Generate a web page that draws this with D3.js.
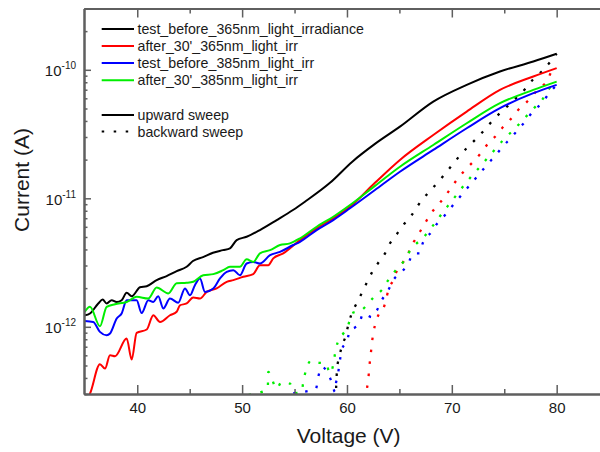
<!DOCTYPE html>
<html>
<head>
<meta charset="utf-8">
<script src="https://cdn.jsdelivr.net/npm/d3@7"></script>
<style>
  body { margin: 0; background: #fff; }
  svg { display: block; font-family: "Liberation Sans", Arial, sans-serif; }
</style>
</head>
<body>
<svg id="chart" width="600" height="452"></svg>
<script>
// ---- labels ----
const seriesLabels = [
  "test_before_365nm_light_irradiance",
  "after_30'_365nm_light_irr",
  "test_before_385nm_light_irr",
  "after_30'_385nm_light_irr"
];
const sweepLabels = ["upward sweep", "backward sweep"];
const xTickValues = [40, 50, 60, 70, 80];
const xMinorValues = [45, 55, 65, 75, 85];
const yTickValues = [1e-12, 1e-11, 1e-10];
const yTickExponents = ["-12", "-11", "-10"];

// ---- upward sweeps: [voltage V, current A] ----
const upBefore365 = [[35.0,1.23e-12],[35.49,1.27e-12],[36.28,1.52e-12],[36.70,1.63e-12],[37.08,1.52e-12],[37.56,1.61e-12],[38.04,1.56e-12],[38.51,1.61e-12],[38.99,1.84e-12],[39.47,1.73e-12],[40.26,2.03e-12],[40.90,2.07e-12],[41.85,2.31e-12],[42.80,2.48e-12],[43.76,2.71e-12],[44.71,2.93e-12],[45.31,3.25e-12],[46.27,3.49e-12],[47.22,3.77e-12],[48.17,3.95e-12],[48.84,4.08e-12],[49.48,4.73e-12],[50.43,5.02e-12],[51.70,5.66e-12],[53.30,6.77e-12],[54.85,8.11e-12],[55.99,9.41e-12],[58.38,1.32e-11],[60.48,1.92e-11],[62.67,2.65e-11],[65.05,3.61e-11],[68.23,5.66e-11],[71.42,7.64e-11],[74.59,9.70e-11],[77.77,1.16e-10],[80.0,1.333e-10]];
const upAfter365 = [[35.0,2.6e-13],[35.49,3.02e-13],[36.44,5.11e-13],[36.92,4.73e-13],[37.40,6.01e-13],[37.88,5.90e-13],[38.99,8.10e-13],[39.47,5.56e-13],[39.94,8.97e-13],[40.90,9.53e-13],[41.53,1.23e-12],[42.17,1.09e-12],[43.12,1.23e-12],[43.76,1.31e-12],[44.07,1.47e-12],[44.71,1.52e-12],[45.34,1.69e-12],[45.98,1.66e-12],[46.62,1.87e-12],[47.57,1.99e-12],[48.53,2.24e-12],[49.16,2.31e-12],[50.11,2.45e-12],[51.06,2.57e-12],[51.70,3.02e-12],[52.49,3.02e-12],[52.97,3.41e-12],[53.92,3.73e-12],[55.52,4.73e-12],[57.11,5.84e-12],[58.69,6.98e-12],[60.29,8.60e-12],[62.67,1.32e-11],[65.05,1.99e-11],[68.23,3.11e-11],[71.42,4.73e-11],[74.59,6.98e-11],[77.77,8.87e-11],[80.0,1.031e-10]];
const upBefore385 = [[35.0,1.11e-12],[35.80,1.09e-12],[36.44,9.13e-13],[37.08,8.60e-13],[37.40,8.87e-13],[38.04,1.16e-12],[38.51,1.27e-12],[38.99,1.61e-12],[39.94,1.61e-12],[40.42,1.28e-12],[41.05,1.61e-12],[41.53,1.56e-12],[42.00,1.73e-12],[42.48,1.39e-12],[43.12,1.66e-12],[43.91,1.54e-12],[44.55,1.99e-12],[45.03,1.76e-12],[45.50,2.11e-12],[45.98,2.38e-12],[46.46,1.87e-12],[47.25,1.99e-12],[47.89,2.38e-12],[48.53,2.68e-12],[49.16,2.76e-12],[49.79,2.52e-12],[50.43,3.11e-12],[51.06,3.20e-12],[51.70,3.11e-12],[52.66,3.61e-12],[53.61,3.83e-12],[54.88,4.33e-12],[55.52,4.59e-12],[57.11,5.66e-12],[58.69,6.77e-12],[60.29,8.36e-12],[62.67,1.16e-11],[65.05,1.61e-11],[68.23,2.38e-11],[71.42,3.51e-11],[74.59,5.03e-11],[77.77,6.58e-11],[80.0,7.64e-11]];
const upAfter385 = [[35.0,1.31e-12],[35.49,1.43e-12],[36.44,1.01e-12],[37.08,1.43e-12],[37.88,1.50e-12],[38.99,1.56e-12],[39.94,1.71e-12],[41.05,1.66e-12],[41.85,2.02e-12],[42.96,1.82e-12],[43.76,2.18e-12],[44.71,2.20e-12],[45.34,2.24e-12],[46.29,2.52e-12],[47.25,2.57e-12],[48.20,2.76e-12],[48.84,2.93e-12],[49.79,2.93e-12],[50.43,3.35e-12],[51.06,3.20e-12],[51.70,3.73e-12],[52.66,3.95e-12],[53.61,4.33e-12],[54.56,4.46e-12],[55.52,4.88e-12],[57.11,6.01e-12],[58.69,7.19e-12],[60.29,8.87e-12],[62.67,1.25e-11],[65.05,1.76e-11],[68.23,2.60e-11],[71.42,3.84e-11],[74.59,5.50e-11],[77.77,6.98e-11],[80.0,8.10e-11]];

// ---- backward sweeps: [voltage V, current A] ----
const downBefore365 = [[58.9,2.7e-13],[59.0,3.83e-13],[59.05,4.73e-13],[59.27,5.83e-13],[59.49,6.97e-13],[59.90,8.60e-13],[60.12,1.03e-12],[60.45,1.27e-12],[60.92,1.52e-12],[61.40,1.82e-12],[61.88,2.20e-12],[62.36,2.63e-12],[62.99,3.15e-12],[63.63,3.73e-12],[64.10,4.46e-12],[64.74,5.24e-12],[65.37,6.19e-12],[66.17,7.41e-12],[66.80,8.87e-12],[68.87,1.39e-11],[69.51,1.61e-11],[70.30,1.93e-11],[70.94,2.24e-11],[71.73,2.60e-11],[72.52,3.02e-11],[73.26,3.51e-11],[73.95,4.08e-11],[74.75,4.73e-11],[75.55,5.43e-11],[76.34,6.27e-11],[77.07,7.20e-11],[77.77,8.46e-11],[78.57,9.70e-11],[79.29,1.128e-10],[80.0,1.333e-10]];
const downAfter365 = [[61.85,2.7e-13],[61.88,3.11e-13],[62.03,3.83e-13],[62.13,4.87e-13],[62.26,6.01e-13],[62.36,7.28e-13],[62.51,8.87e-13],[62.67,1.03e-12],[62.99,1.23e-12],[63.41,1.35e-12],[63.72,1.61e-12],[63.94,1.93e-12],[64.42,2.31e-12],[64.74,2.71e-12],[65.37,3.20e-12],[65.85,3.73e-12],[66.17,4.33e-12],[66.48,4.73e-12],[66.96,5.49e-12],[67.44,6.39e-12],[67.91,7.41e-12],[68.39,8.36e-12],[68.94,9.41e-12],[70.94,1.55e-11],[71.42,1.71e-11],[72.05,1.93e-11],[72.69,2.21e-11],[73.48,2.68e-11],[74.28,3.11e-11],[74.91,3.61e-11],[75.55,4.08e-11],[76.18,4.73e-11],[76.98,5.43e-11],[77.61,6.19e-11],[78.34,7.20e-11],[79.05,8.10e-11],[79.52,9.70e-11],[80.0,1.031e-10]];
const downBefore385 = [[54.88,3.05e-13],[57.04,3.30e-13],[57.26,4.07e-13],[57.59,4.87e-13],[58.54,3.72e-13],[58.86,3.11e-13],[58.95,3.65e-13],[59.07,3.95e-13],[59.33,5.49e-13],[59.49,6.57e-13],[60.03,7.86e-13],[60.29,9.41e-13],[60.76,9.87e-13],[61.17,1.06e-12],[61.55,1.27e-12],[62.36,1.19e-12],[62.83,1.33e-12],[63.22,1.56e-12],[63.94,1.93e-12],[64.42,2.31e-12],[65.22,2.68e-12],[65.85,3.11e-12],[66.32,3.73e-12],[66.96,3.73e-12],[67.22,4.46e-12],[68.07,5.49e-12],[68.56,6.30e-12],[69.35,7.41e-12],[69.99,8.60e-12],[72.69,1.57e-11],[73.48,1.87e-11],[74.21,2.18e-11],[74.91,2.56e-11],[75.71,2.99e-11],[76.34,3.45e-11],[77.07,4.02e-11],[77.71,4.73e-11],[78.57,5.50e-11],[79.29,6.58e-11],[80.0,7.64e-11]];
const downAfter385 = [[49.48,2.9e-13],[51.5,3.05e-13],[52.45,3.3e-13],[52.47,3.83e-13],[52.49,4.45e-13],[53.30,3.30e-13],[53.77,3.72e-13],[54.56,3.61e-13],[55.04,3.05e-13],[55.68,3.11e-13],[55.83,3.72e-13],[56.09,4.59e-13],[56.63,5.49e-13],[57.26,5.27e-13],[58.00,5.17e-13],[58.38,4.33e-13],[58.64,4.87e-13],[58.95,6.77e-13],[59.27,8.10e-13],[59.65,8.87e-13],[60.12,1.03e-12],[60.45,1.27e-12],[61.40,1.35e-12],[62.03,1.52e-12],[62.58,1.71e-12],[63.31,1.93e-12],[63.94,2.31e-12],[64.58,2.71e-12],[65.37,3.20e-12],[65.85,3.73e-12],[66.48,4.33e-12],[67.22,4.88e-12],[67.91,5.73e-12],[68.49,6.57e-12],[69.18,7.86e-12],[69.82,9.14e-12],[71.89,1.49e-11],[72.69,1.76e-11],[73.38,2.05e-11],[74.21,2.45e-11],[74.91,2.85e-11],[75.71,3.30e-11],[76.43,3.79e-11],[77.14,4.38e-11],[77.93,5.12e-11],[78.66,5.91e-11],[79.20,6.98e-11],[80.0,8.10e-11]];

// ---- styling ----
const colors = ["#000000", "#ff0000", "#0000ff", "#00ee00"];
const axisColor = "#5f5f5f";
const textColor = "#1a1a1a";
const dotDash = "2.5 9.5";

const upward = [upBefore365, upAfter365, upBefore385, upAfter385];
const backward = [downBefore365, downAfter365, downBefore385, downAfter385];

const svg = d3.select("#chart");
const plot = { left: 84, top: 8.5, right: 613.3, bottom: 394 };

const x = d3.scaleLinear().domain([34.92, 85.4]).range([plot.left, plot.right]);
const y = d3.scaleLog().domain([3e-13, 3e-10]).range([plot.bottom, plot.top]);

svg.append("defs").append("clipPath").attr("id", "plotClip")
  .append("rect")
  .attr("x", plot.left).attr("y", plot.top)
  .attr("width", plot.right - plot.left).attr("height", plot.bottom - plot.top);

const line = d3.line().x(d => x(d[0])).y(d => y(d[1])).curve(d3.curveMonotoneX);

const dataLayer = svg.append("g").attr("clip-path", "url(#plotClip)");

// backward sweeps (dotted)
backward.forEach((s, i) => {
  dataLayer.append("path").datum(s)
    .attr("d", line)
    .attr("fill", "none")
    .attr("stroke", colors[i])
    .attr("stroke-width", 2.3)
    .attr("stroke-dasharray", dotDash);
});
// upward sweeps (solid)
upward.forEach((s, i) => {
  dataLayer.append("path").datum(s)
    .attr("d", line)
    .attr("fill", "none")
    .attr("stroke", colors[i])
    .attr("stroke-width", 2)
    .attr("stroke-linejoin", "round");
});

// ---- axes ----
function styleAxis(g, width) {
  g.select(".domain").attr("stroke", axisColor).attr("stroke-width", width);
  g.selectAll(".tick line").attr("stroke", axisColor).attr("stroke-width", 1.5);
  g.selectAll(".tick text").attr("fill", textColor);
}

// minor ticks on log axis (2..9 of each decade)
const yMinor = [];
[-13, -12, -11, -10].forEach(d => {
  for (let k = 2; k <= 9; k++) {
    const v = k * Math.pow(10, d);
    if (v >= 3e-13 * 0.999 && v <= 3e-10 * 1.001) yMinor.push(v);
  }
});

const axes = svg.append("g");

// bottom
axes.append("g").attr("transform", `translate(0,${plot.bottom})`)
  .call(d3.axisBottom(x).tickValues(xMinorValues).tickSize(-5).tickSizeOuter(0).tickFormat(""))
  .call(g => styleAxis(g, 2));
axes.append("g").attr("transform", `translate(0,${plot.bottom})`)
  .call(d3.axisBottom(x).tickValues(xTickValues).tickSize(-9).tickSizeOuter(0).tickPadding(8.5))
  .call(g => styleAxis(g, 2))
  .call(g => g.selectAll(".tick text").attr("font-size", 15).attr("font-family", "Liberation Sans, Arial, sans-serif"));

// top
axes.append("g").attr("transform", `translate(0,${plot.top})`)
  .call(d3.axisTop(x).tickValues(xMinorValues).tickSize(-5).tickSizeOuter(0).tickFormat(""))
  .call(g => styleAxis(g, 2));
axes.append("g").attr("transform", `translate(0,${plot.top})`)
  .call(d3.axisTop(x).tickValues(xTickValues).tickSize(-9).tickSizeOuter(0).tickFormat(""))
  .call(g => styleAxis(g, 2));

// left
axes.append("g").attr("transform", `translate(${plot.left},0)`)
  .call(d3.axisLeft(y).tickValues(yMinor).tickSize(-3.5).tickSizeOuter(0).tickFormat(""))
  .call(g => styleAxis(g, 2));
const yMajor = axes.append("g").attr("transform", `translate(${plot.left},0)`)
  .call(d3.axisLeft(y).tickValues(yTickValues).tickSize(-7).tickSizeOuter(0).tickFormat(""))
  .call(g => styleAxis(g, 2));

// right (frame edge)
axes.append("g").attr("transform", `translate(${plot.right},0)`)
  .call(d3.axisRight(y).tickValues(yMinor).tickSize(-3.5).tickSizeOuter(0).tickFormat(""))
  .call(g => styleAxis(g, 2));

// power-of-ten labels
yMajor.selectAll(".tick").each(function (d, i) {
  const t = d3.select(this).append("text")
    .attr("x", -8).attr("y", 6)
    .attr("text-anchor", "end")
    .attr("fill", textColor)
    .attr("font-size", 15);
  t.append("tspan").text("10");
  t.append("tspan").attr("dy", -7).attr("font-size", 10).text(yTickExponents[i]);
});

// axis titles
svg.append("text")
  .attr("x", (plot.left + plot.right) / 2).attr("y", 443)
  .attr("text-anchor", "middle")
  .attr("font-size", 21).attr("fill", textColor)
  .text("Voltage (V)");
svg.append("text")
  .attr("transform", "translate(29,180) rotate(-90)")
  .attr("text-anchor", "middle")
  .attr("font-size", 21).attr("fill", textColor)
  .text("Current (A)");

// ---- legend ----
const legend = svg.append("g");
const rowY = [29, 46, 63, 80.3];
const x0 = 101.7, x1 = 134, tx = 137.5;
seriesLabels.forEach((lab, i) => {
  legend.append("line").attr("x1", x0).attr("x2", x1).attr("y1", rowY[i]).attr("y2", rowY[i])
    .attr("stroke", colors[i]).attr("stroke-width", 2);
  legend.append("text").attr("x", tx).attr("y", rowY[i] + 5)
    .attr("font-size", 14.2).attr("fill", textColor).text(lab);
});
const sweepY = [115, 131.5];
sweepLabels.forEach((lab, i) => {
  legend.append("line").attr("x1", x0).attr("x2", x1).attr("y1", sweepY[i]).attr("y2", sweepY[i])
    .attr("stroke", "#000").attr("stroke-width", 2)
    .attr("stroke-dasharray", i === 1 ? dotDash : null);
  legend.append("text").attr("x", tx).attr("y", sweepY[i] + 5)
    .attr("font-size", 14.2).attr("fill", textColor).text(lab);
});
</script>
</body>
</html>
